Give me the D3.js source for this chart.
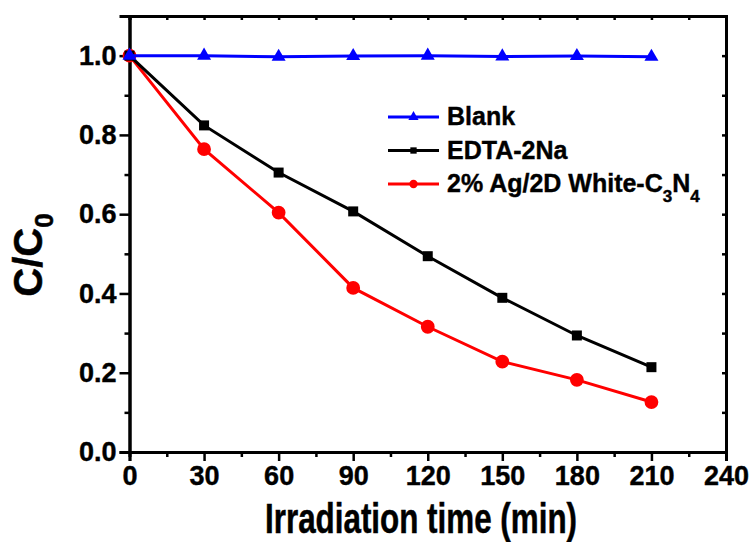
<!DOCTYPE html>
<html>
<head>
<meta charset="utf-8">
<script src="https://cdn.jsdelivr.net/npm/d3@7"></script>
<style>
  body { margin: 0; background: #fff; }
  text { font-family: "Liberation Sans", Arial, sans-serif; font-weight: bold; }
</style>
</head>
<body>
<div id="content"></div>
<script>
var width = 750;
var height = 542;

// data
var times = [0, 30, 60, 90, 120, 150, 180, 210];
var blank = [1.0, 1.0, 0.997, 0.999, 1.0, 0.998, 0.999, 0.997];
var edta = [1.0, 0.824, 0.705, 0.607, 0.494, 0.389, 0.294, 0.214];
var agC3N4 = [1.0, 0.764, 0.604, 0.414, 0.316, 0.228, 0.182, 0.126];

var xTicks = [0, 30, 60, 90, 120, 150, 180, 210, 240];
var yTicks = [0.0, 0.2, 0.4, 0.6, 0.8, 1.0];

var series = [
    { name: "agc3n4", values: agC3N4, color: "#ff0000", symbol: d3.symbolCircle, size: 150, legSize: 55 },
    { name: "edta", values: edta, color: "#000000", symbol: d3.symbolSquare, size: 100, legSize: 40 },
    { name: "blank", values: blank, color: "#0000ff", symbol: d3.symbolTriangle, size: 85, legSize: 45 }
];

var svg = d3.select("#content").append("svg").attr("width", width).attr("height", height);

var x = d3.scaleLinear().domain([0, 240]).range([129.5, 726]);
var y = d3.scaleLinear().domain([0, 1.1]).range([452, 16]);

// axes
var minorX = d3.range(0, 241, 15);
var minorY = d3.range(0, 1.101, 0.1);

svg.append("g")
    .attr("transform", `translate(0, ${y(0)})`)
    .call(d3.axisBottom(x).tickValues(minorX.filter(d => d % 30 !== 0)).tickSize(5).tickFormat(""));
svg.append("g")
    .attr("class", "xaxis")
    .attr("transform", `translate(0, ${y(0)})`)
    .call(d3.axisBottom(x).tickValues(xTicks).tickSize(9).tickPadding(5));

svg.append("g")
    .attr("transform", `translate(${x(0)}, 0)`)
    .call(d3.axisLeft(y).tickValues(minorY.filter((d, i) => i % 2 === 1)).tickSize(5).tickFormat(""));
svg.append("g")
    .attr("class", "yaxis")
    .attr("transform", `translate(${x(0)}, 0)`)
    .call(d3.axisLeft(y).tickValues(yTicks).tickSize(10).tickPadding(3).tickFormat(d3.format(".1f")));

svg.append("g")
    .attr("transform", `translate(0, ${y(1.1)})`)
    .call(d3.axisBottom(x).tickValues(minorX).tickSize(4).tickFormat(""));
svg.append("g")
    .attr("transform", `translate(${x(240)}, 0)`)
    .call(d3.axisLeft(y).tickValues(minorY).tickSize(4).tickFormat(""));

svg.selectAll(".domain").attr("stroke-width", 3).attr("stroke", "#000");
svg.selectAll(".tick line").attr("stroke-width", 2.5).attr("stroke", "#000");
svg.selectAll(".xaxis, .yaxis")
    .attr("font-size", 27)
    .attr("font-family", "'Liberation Sans', Arial, sans-serif");
svg.selectAll(".xaxis text, .yaxis text")
    .attr("fill", "#000")
    .attr("stroke", "#000")
    .attr("stroke-width", 0.4);

// lines and markers
var line = d3.line().x((d, i) => x(times[i])).y(d => y(d));

series.forEach(function (s) {
    svg.append("path")
        .datum(s.values)
        .attr("d", line)
        .attr("fill", "none")
        .attr("stroke", s.color)
        .attr("stroke-width", 3);

    svg.selectAll(".m-" + s.name)
        .data(s.values)
        .enter()
        .append("path")
        .attr("class", "m-" + s.name)
        .attr("transform", (d, i) => `translate(${x(times[i])}, ${y(d)})`)
        .attr("d", d3.symbol().type(s.symbol).size(s.size))
        .attr("fill", s.color);
});

// legend
var legendData = [
    { label: "Blank", s: series[2] },
    { label: "EDTA-2Na", s: series[1] },
    { label: "2% Ag/2D White-C", s: series[0] }
];

var legend = svg.append("g").attr("transform", "translate(388, 117)");

var legendItem = legend.selectAll(".legend-item")
    .data(legendData)
    .enter()
    .append("g")
    .attr("class", "legend-item")
    .attr("transform", (d, i) => `translate(0, ${i * 33.5})`);

legendItem.append("line")
    .attr("x1", 0).attr("x2", 51)
    .attr("stroke", d => d.s.color)
    .attr("stroke-width", 3);

legendItem.append("path")
    .attr("transform", "translate(25.5, 0)")
    .attr("d", d => d3.symbol().type(d.s.symbol).size(d.s.legSize)())
    .attr("fill", d => d.s.color);

var legendText = legendItem.append("text")
    .attr("x", 59)
    .attr("y", 8)
    .attr("stroke", "#000")
    .attr("stroke-width", 0.4)
    .style("font-size", "25px")
    .text(d => d.label);

var agText = legendText.filter((d, i) => i === 2);
agText.append("tspan").attr("dy", 10).style("font-size", "17px").text("3");
agText.append("tspan").attr("dy", -10).text("N");
agText.append("tspan").attr("dy", 10).style("font-size", "17px").text("4");

// axis titles
svg.append("text")
    .attr("x", 421)
    .attr("y", 533)
    .style("text-anchor", "middle")
    .style("font-size", "42px")
    .attr("stroke", "#000")
    .attr("stroke-width", 0.5)
    .attr("textLength", 312)
    .attr("lengthAdjust", "spacingAndGlyphs")
    .text("Irradiation time (min)");

var yTitle = svg.append("text")
    .attr("transform", "translate(42, 255) rotate(-90)")
    .style("text-anchor", "middle")
    .style("font-size", "40px")
    .attr("stroke", "#000")
    .attr("stroke-width", 0.5)
    .text("C/C");
yTitle.append("tspan").attr("dy", 11).style("font-size", "26px").text("0");
</script>
</body>
</html>
